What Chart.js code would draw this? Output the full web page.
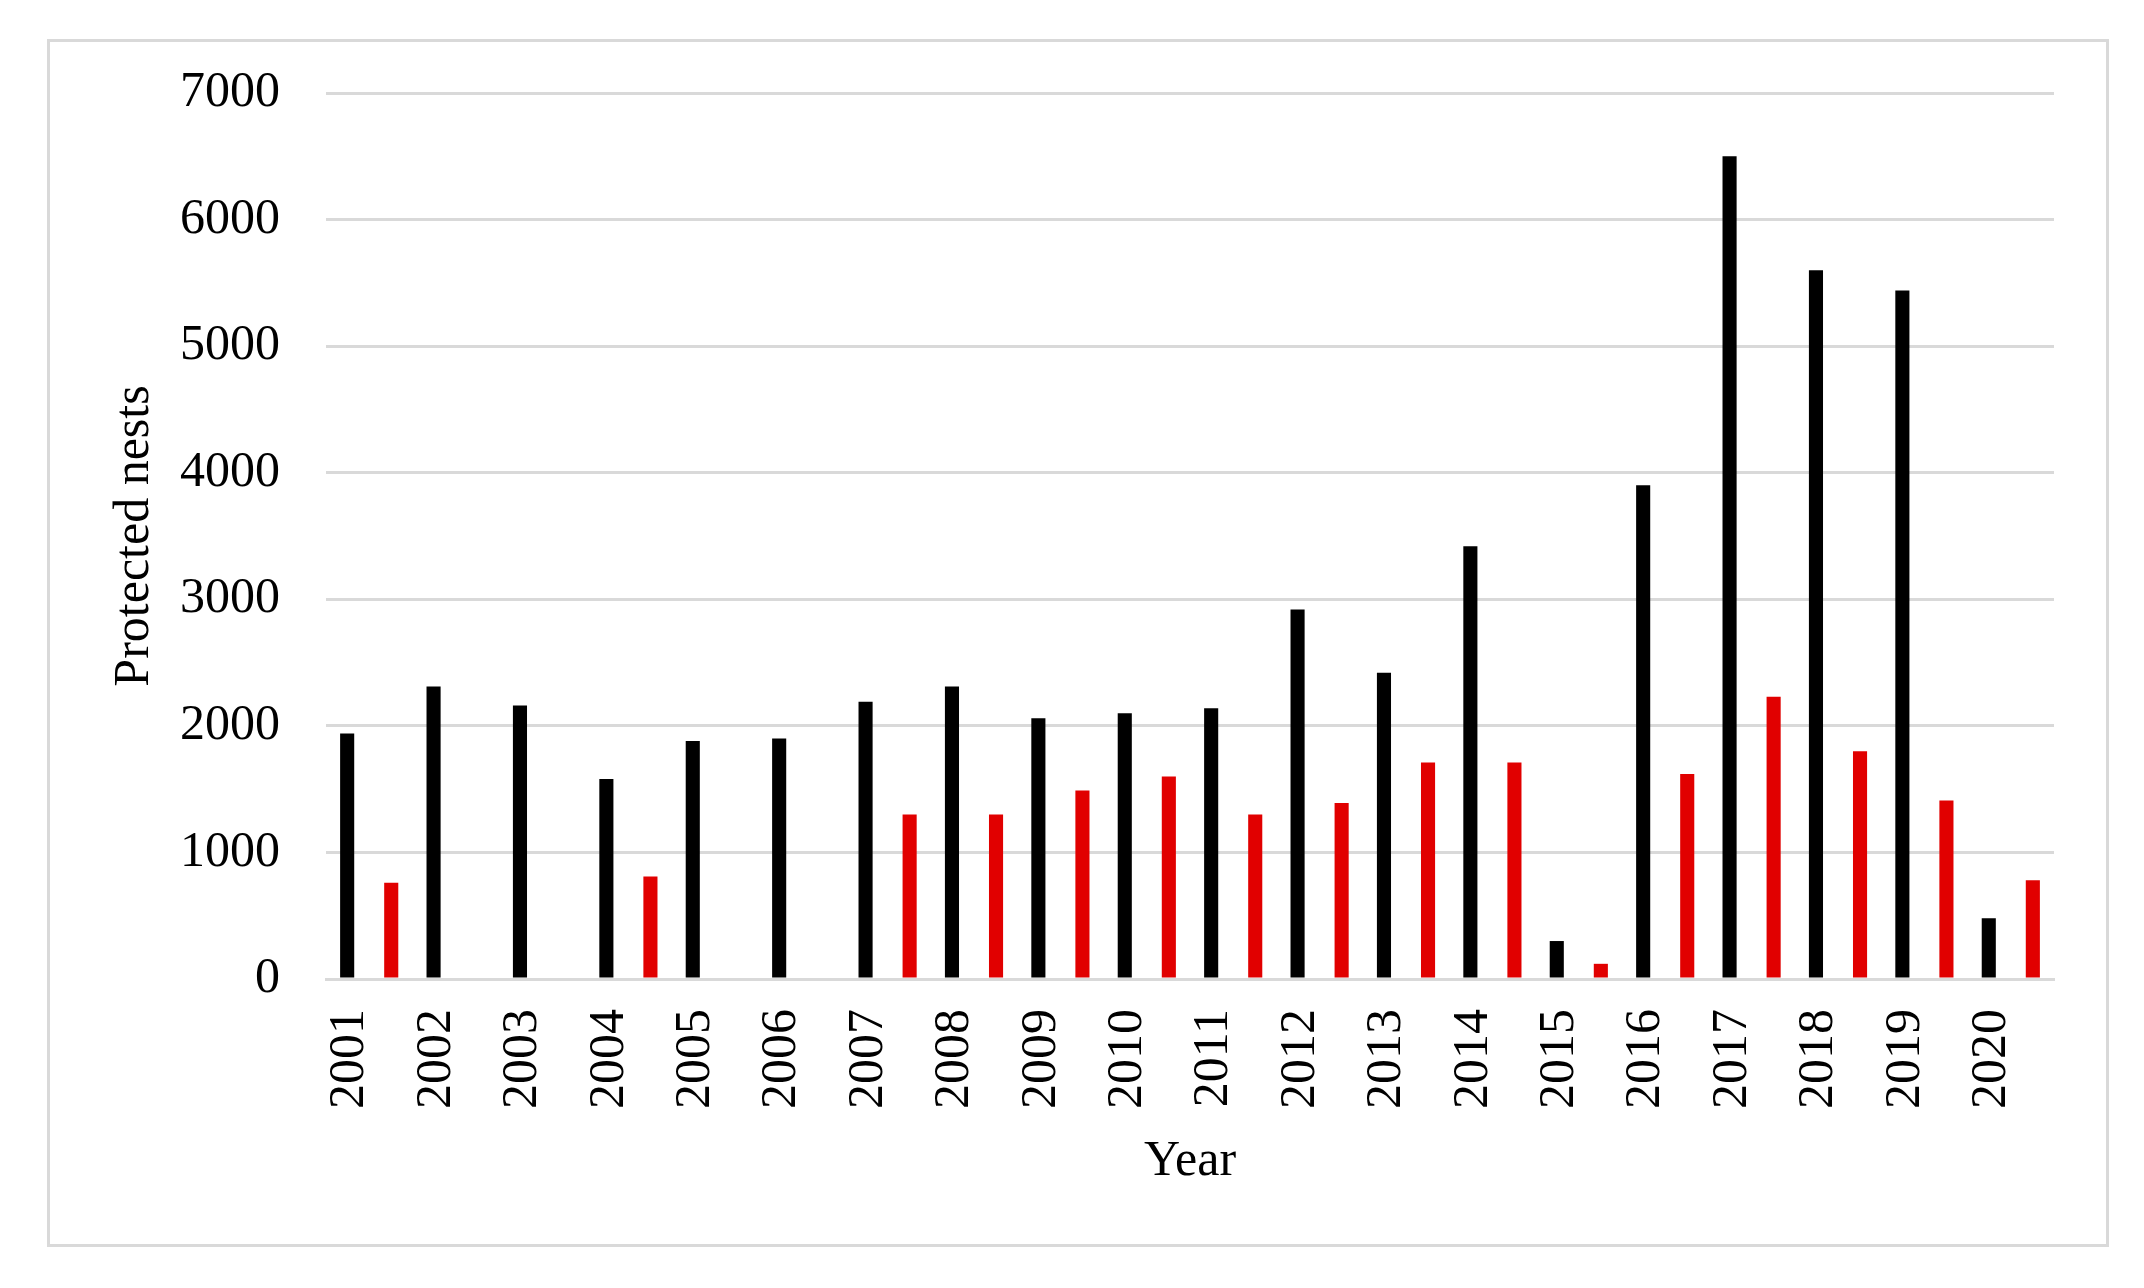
<!DOCTYPE html>
<html>
<head>
<meta charset="utf-8">
<script src="https://cdn.jsdelivr.net/npm/chart.js@4/dist/chart.umd.min.js"></script>
<style>
  html, body { margin: 0; padding: 0; background: #fff; }
  #wrap { width: 2144px; height: 1288px; position: relative; }
</style>
</head>
<body>
<div id="wrap"><canvas id="chart" width="2144" height="1288"></canvas></div>
<script>
const years = ["2001","2002","2003","2004","2005","2006","2007","2008","2009","2010",
               "2011","2012","2013","2014","2015","2016","2017","2018","2019","2020"];
const blackNests = [1940, 2310, 2160, 1580, 1880, 1900, 2190, 2310, 2060, 2100,
                    2140, 2920, 2420, 3420, 300, 3900, 6500, 5600, 5440, 480];
const redNests = [760, null, null, 810, null, null, 1300, 1300, 1490, 1600,
                  1300, 1390, 1710, 1710, 120, 1620, 2230, 1800, 1410, 780];
const yTicks = [0, 1000, 2000, 3000, 4000, 5000, 6000, 7000];

const serif = "'Liberation Serif', 'Times New Roman', serif";
const grey = "#d9d9d9";

// white background + light frame round the whole figure
const frame = {
  id: "frame",
  beforeDraw(chart) {
    const c = chart.ctx;
    c.save();
    c.fillStyle = "#fff";
    c.fillRect(0, 0, chart.width, chart.height);
    c.strokeStyle = grey;
    c.lineWidth = 3;
    c.strokeRect(48.5, 40.5, 2059, 1205);
    c.restore();
  }
};

new Chart(document.getElementById("chart"), {
  type: "bar",
  data: {
    labels: years,
    datasets: [
      { label: "Black", data: blackNests, backgroundColor: "#000000",
        categoryPercentage: 1.02, barPercentage: 0.32 },
      { label: "Red", data: redNests, backgroundColor: "#e10000",
        categoryPercentage: 1.02, barPercentage: 0.32 }
    ]
  },
  options: {
    responsive: false,
    animation: false,
    layout: { padding: { left: 0, top: 93, right: 90, bottom: 89 } },
    plugins: { legend: { display: false }, tooltip: { enabled: false } },
    scales: {
      x: {
        grid: { display: false, drawTicks: false },
        border: { display: true, color: grey, width: 3 },
        ticks: {
          color: "#000", font: { family: serif, size: 50 },
          minRotation: 90, maxRotation: 90, autoSkip: false,
          padding: 30, labelOffset: -19
        },
        title: {
          display: true, text: "Year", color: "#000",
          font: { family: serif, size: 50 }, padding: { top: 0, bottom: 7 }
        },
        afterFit: s => { s.height = 220; }
      },
      y: {
        min: 0, max: 7000,
        afterBuildTicks: s => { s.ticks = yTicks.map(v => ({ value: v })); },
        grid: { color: grey, lineWidth: 3, drawTicks: false },
        border: { display: false },
        ticks: {
          color: "#000", font: { family: serif, size: 50 }, padding: 46,
          callback: v => String(v)
        },
        title: {
          display: true, text: "Protected nests", color: "#000",
          font: { family: serif, size: 50 }, padding: { top: 105, bottom: 0 }
        },
        afterFit: s => { s.width = 326; }
      }
    }
  },
  plugins: [frame]
});
</script>
</body>
</html>
